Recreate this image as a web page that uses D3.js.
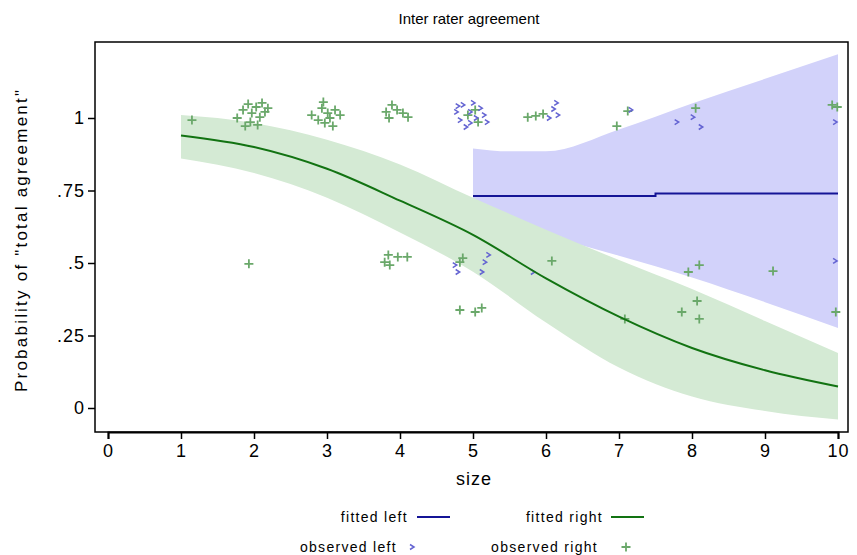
<!DOCTYPE html>
<html>
<head>
<meta charset="utf-8">
<script src="https://cdn.jsdelivr.net/npm/d3@7"></script>
<style>
body { margin: 0; background: #fff; }
text { font-family: "Liberation Sans", Arial, sans-serif; }
</style>
</head>
<body>
<script>
// fitted right (green) and its band, at size 1..10
const fitX = [1, 2, 3, 4, 5, 6, 7, 8, 9, 10];
const fitRight = [0.94, 0.90, 0.825, 0.715, 0.597, 0.447, 0.315, 0.207, 0.13, 0.074];
const ciRightHi = [1.01, 0.983, 0.925, 0.84, 0.725, 0.615, 0.51, 0.41, 0.30, 0.19];
const ciRightLo = [0.86, 0.81, 0.725, 0.605, 0.47, 0.295, 0.14, 0.04, -0.01, -0.04];

// fitted left (blue) and its band
const fitLeftX = [5, 7.5, 7.5, 10];
const fitLeft = [0.731, 0.731, 0.740, 0.740];
const ciLeftX = [5, 5.5, 6, 7, 8, 9, 10];
const ciLeftHi = [0.895, 0.885, 0.885, 0.96, 1.05, 1.135, 1.22];
const ciLeftLo = [0.66, 0.63, 0.595, 0.525, 0.45, 0.365, 0.276];

// observed right (green +)
const obsRightX = [1.15, 1.77, 1.85, 1.92, 1.97, 2.03, 2.08, 2.11, 2.15, 1.95, 1.88, 2.05, 2.19,
  2.79, 2.88, 2.93, 2.97, 3.01, 2.95, 3.04, 3.11, 3.18, 3.08,
  3.81, 3.89, 3.96, 4.04, 4.11, 3.85,
  4.93, 5.03, 5.07, 5.75, 5.86, 5.96, 6.97, 7.12, 8.05, 9.92, 9.99,
  1.93, 3.84, 3.86, 3.97, 4.10, 3.79, 4.82, 4.86,
  4.82, 5.03, 5.12, 6.08, 7.08, 7.95, 8.10, 8.07, 7.86, 8.10, 9.11, 9.97];
const obsRightY = [0.993, 1.0, 1.028, 1.048, 1.017, 1.038, 1.003, 1.052, 1.021, 0.986, 0.972, 0.976, 1.034,
  1.01, 0.993, 1.034, 0.983, 1.017, 1.055, 1.0, 1.028, 1.01, 0.972,
  1.021, 1.045, 1.028, 1.017, 1.003, 1.0,
  1.01, 1.028, 0.986, 1.003, 1.007, 1.014, 0.972, 1.024, 1.034, 1.045, 1.038,
  0.497, 0.528, 0.493, 0.521, 0.521, 0.503, 0.503, 0.517,
  0.338, 0.331, 0.345, 0.507, 0.307, 0.469, 0.493, 0.369, 0.331, 0.307, 0.472, 0.331];

// observed left (blue chevrons)
const obsLeftX = [4.77, 4.82, 4.86, 4.90, 4.96, 5.0, 5.04, 5.10, 5.15, 4.96, 4.79, 5.19,
  6.04, 6.10, 6.14, 6.16, 7.16, 7.79, 8.01, 8.12, 9.96,
  4.75, 4.79, 5.16, 5.12, 5.21, 5.82, 9.96];
const obsLeftY = [1.021, 0.993, 1.045, 0.969, 1.021, 1.052, 1.0, 1.034, 1.01, 0.983, 1.041, 0.986,
  1.0, 1.031, 1.052, 1.01, 1.028, 0.986, 1.003, 0.969, 0.986,
  0.493, 0.469, 0.503, 0.469, 0.528, 0.469, 0.507];

const xTicks = [0, 1, 2, 3, 4, 5, 6, 7, 8, 9, 10];
const yTicks = [0, 0.25, 0.5, 0.75, 1];
const yTickLabels = ["0", ".25", ".5", ".75", "1"];

const W = 857, H = 555;
const frame = {left: 95, top: 42, right: 848, bottom: 432};

const greenBand = "#d4ead4", blueBand = "#d2d2fa";
const greenLine = "#127312", blueLine = "#141496";
const greenPt = "#6aa86a", bluePt = "#6464d2";

const svg = d3.select("body").append("svg")
  .attr("width", W)
  .attr("height", H);

const x = d3.scaleLinear().domain([0, 10]).range([108, 838]);
const y = d3.scaleLinear().domain([0, 1]).range([408, 118]);

const plot = svg.append("g").attr("class", "plot");

const band = (xs, lo, hi) => d3.area()
  .x((d, i) => x(xs[i]))
  .y0((d, i) => y(lo[i]))
  .y1((d, i) => y(hi[i]))
  .curve(d3.curveMonotoneX)(xs);

plot.append("path")
  .attr("d", band(ciLeftX, ciLeftLo, ciLeftHi))
  .attr("fill", blueBand);

plot.append("path")
  .attr("d", band(fitX, ciRightLo, ciRightHi))
  .attr("fill", greenBand);

// observed points
plot.selectAll(".pr")
  .data(obsRightX)
  .enter().append("path")
  .attr("class", "pr")
  .attr("transform", (d, i) => `translate(${x(d)},${y(obsRightY[i])})`)
  .attr("d", "M-4.5,0H4.5M0,-4.5V4.5")
  .attr("stroke", greenPt)
  .attr("stroke-width", 1.8)
  .attr("fill", "none");

plot.selectAll(".pl")
  .data(obsLeftX)
  .enter().append("path")
  .attr("class", "pl")
  .attr("transform", (d, i) => `translate(${x(d)},${y(obsLeftY[i])})`)
  .attr("d", "M-2,-2.5L2,0L-2,2.5")
  .attr("stroke", bluePt)
  .attr("stroke-width", 1.5)
  .attr("fill", "none");

// fitted lines
const line = d3.line().curve(d3.curveMonotoneX);

plot.append("path")
  .attr("d", line(fitX.map((d, i) => [x(d), y(fitRight[i])])))
  .attr("fill", "none")
  .attr("stroke", greenLine)
  .attr("stroke-width", 2);

plot.append("path")
  .attr("d", d3.line()(fitLeftX.map((d, i) => [x(d), y(fitLeft[i])])))
  .attr("fill", "none")
  .attr("stroke", blueLine)
  .attr("stroke-width", 2);

// frame
svg.append("rect")
  .attr("x", frame.left)
  .attr("y", frame.top)
  .attr("width", frame.right - frame.left)
  .attr("height", frame.bottom - frame.top)
  .attr("fill", "none")
  .attr("stroke", "#000")
  .attr("stroke-width", 1.5);

// axes
const yAxis = d3.axisLeft(y)
  .tickValues(yTicks)
  .tickFormat((d, i) => yTickLabels[i])
  .tickSize(7)
  .tickPadding(3);

const gy = svg.append("g")
  .attr("transform", `translate(${frame.left},0)`)
  .call(yAxis);
gy.select(".domain").remove();
gy.selectAll("line").attr("stroke-width", 1.5);
gy.selectAll("text").style("font-size", "18px").style("letter-spacing", "1px").attr("fill", "#000");

const xAxis = d3.axisBottom(x)
  .tickValues(xTicks)
  .tickFormat(d3.format("d"))
  .tickSize(7)
  .tickPadding(5);

const gx = svg.append("g")
  .attr("transform", `translate(0,${frame.bottom})`)
  .call(xAxis);
gx.select(".domain").attr("stroke-width", 2);
gx.selectAll("line").attr("stroke-width", 1.5);
gx.selectAll("text").style("font-size", "18px").style("letter-spacing", "1px").attr("fill", "#000");

// titles
svg.append("text")
  .attr("x", 469)
  .attr("y", 24)
  .attr("text-anchor", "middle")
  .style("font-size", "15px")
  .text("Inter rater agreement");

svg.append("text")
  .attr("x", 474)
  .attr("y", 485)
  .attr("text-anchor", "middle")
  .style("font-size", "18px")
  .style("letter-spacing", "1px")
  .text("size");

svg.append("text")
  .attr("transform", "translate(27,241) rotate(-90)")
  .attr("text-anchor", "middle")
  .attr("textLength", 302)
  .attr("lengthAdjust", "spacing")
  .style("font-size", "17px")
  .text("Probability of \"total agreement\"");

// legend
const legend = svg.append("g").attr("class", "legend")
  .style("font-size", "14px")
  .style("letter-spacing", "1.3px");

legend.append("text").attr("x", 408).attr("y", 522).attr("text-anchor", "end").text("fitted left");
legend.append("line").attr("x1", 417).attr("x2", 450).attr("y1", 517).attr("y2", 517)
  .attr("stroke", blueLine).attr("stroke-width", 2);

legend.append("text").attr("x", 603).attr("y", 522).attr("text-anchor", "end").text("fitted right");
legend.append("line").attr("x1", 611).attr("x2", 644).attr("y1", 517).attr("y2", 517)
  .attr("stroke", greenLine).attr("stroke-width", 2);

legend.append("text").attr("x", 397).attr("y", 552).attr("text-anchor", "end").text("observed left");
legend.append("path").attr("transform", "translate(412,547)")
  .attr("d", "M-2,-2.5L2,0L-2,2.5").attr("stroke", bluePt).attr("stroke-width", 1.5).attr("fill", "none");

legend.append("text").attr("x", 598).attr("y", 552).attr("text-anchor", "end").text("observed right");
legend.append("path").attr("transform", "translate(626,547)")
  .attr("d", "M-4.5,0H4.5M0,-4.5V4.5").attr("stroke", greenPt).attr("stroke-width", 1.8).attr("fill", "none");
</script>
</body>
</html>
